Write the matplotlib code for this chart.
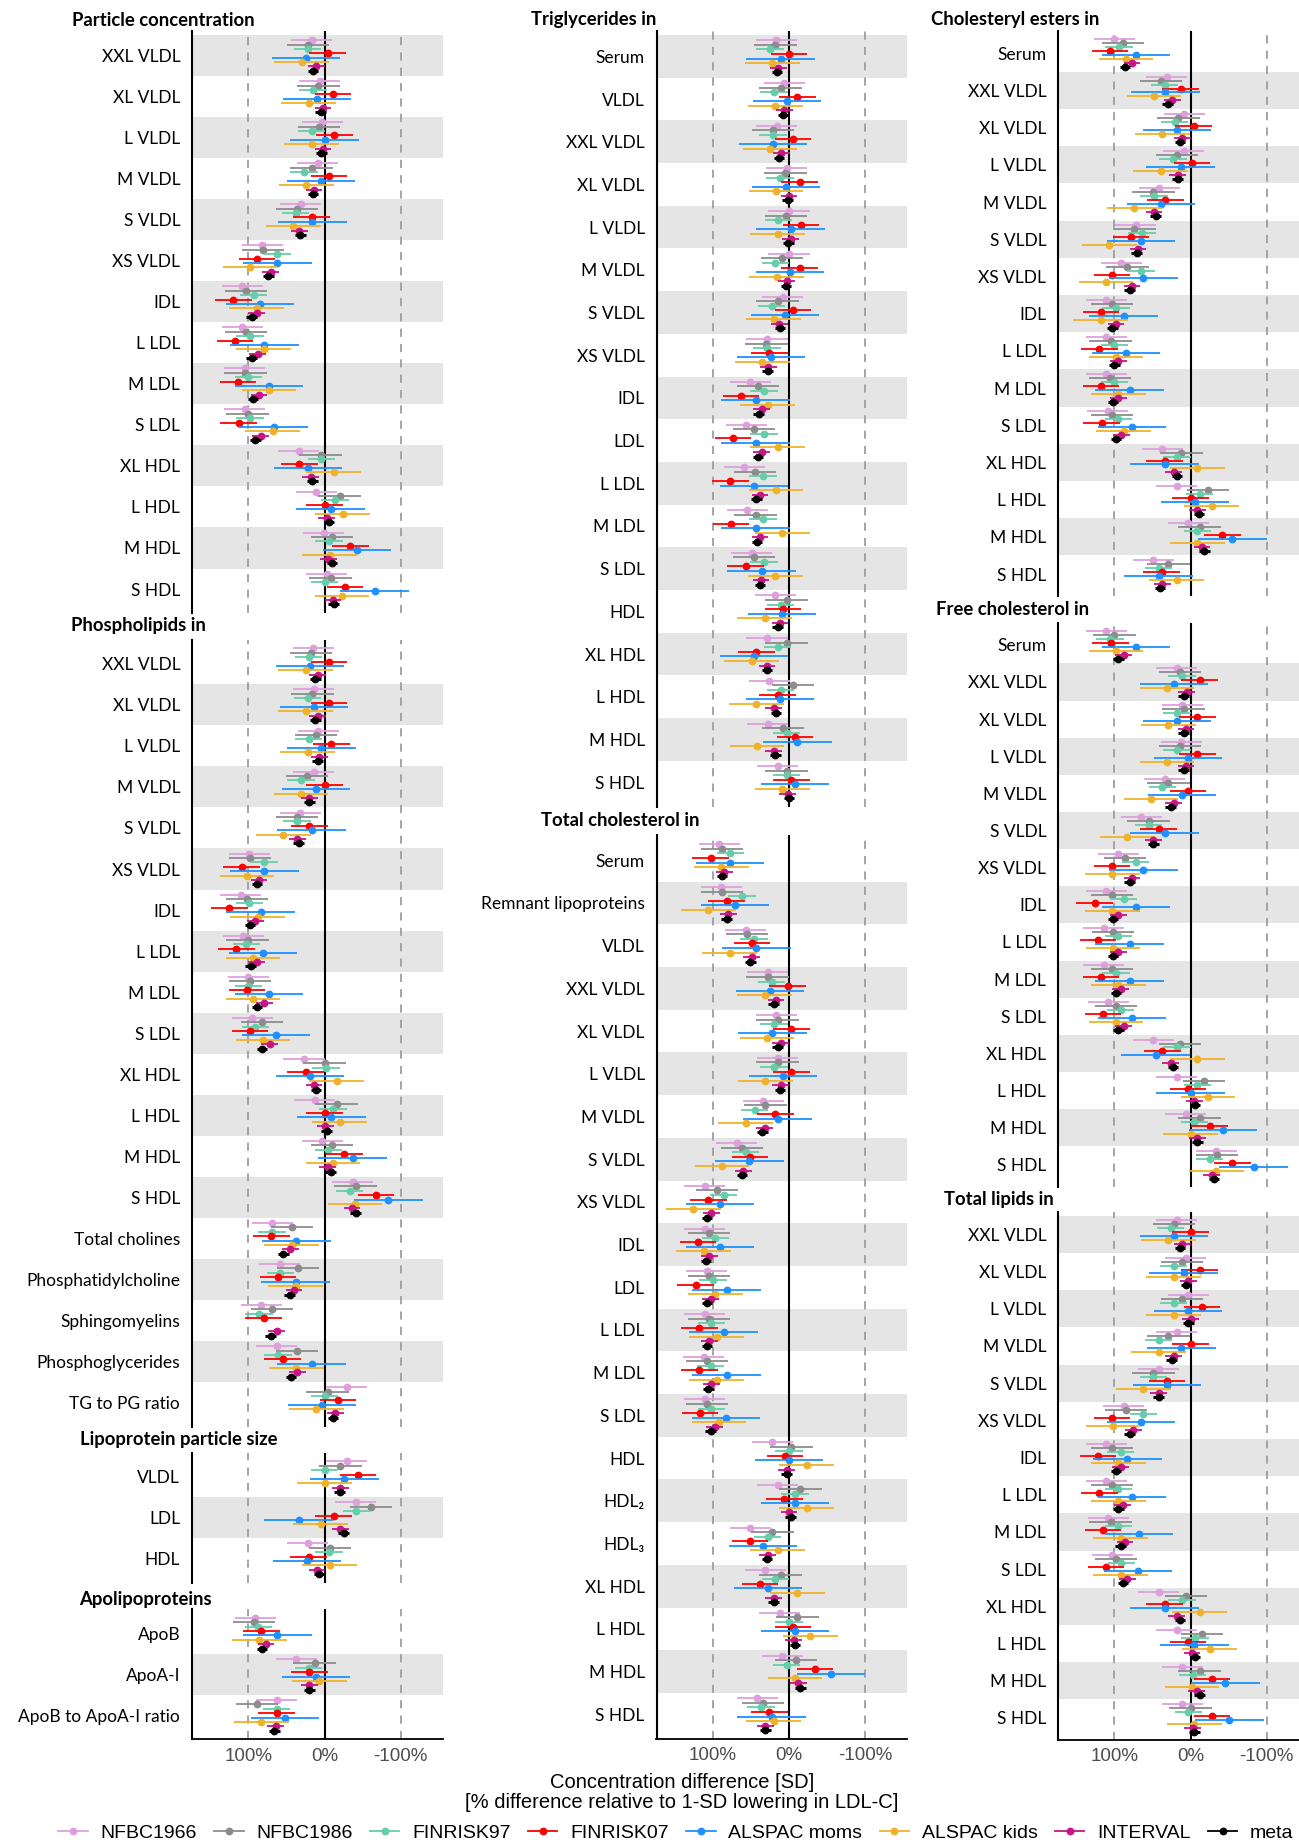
import numpy as np
import matplotlib
matplotlib.use("Agg")
import matplotlib.pyplot as plt
from matplotlib.lines import Line2D

cohorts = ["NFBC1966", "NFBC1986", "FINRISK97", "FINRISK07",
           "ALSPAC moms", "ALSPAC kids", "INTERVAL", "meta"]
cohort_colors = ["#DDA0DD", "#8C8C8C", "#66CDAA", "#FF0000",
                 "#1E90FF", "#F0B22A", "#C71585", "#000000"]
# half width of the 95% CI for each cohort (% difference)
ci_half = [27, 28, 18, 24, 45, 36, 11, 7]

lp_rows = ["XXL VLDL", "XL VLDL", "L VLDL", "M VLDL", "S VLDL", "XS VLDL", "IDL",
           "L LDL", "M LDL", "S LDL", "XL HDL", "L HDL", "M HDL", "S HDL"]

# % difference relative to 1-SD lowering in LDL-C, columns follow `cohorts`
pc_vals = [
    [17, 22, 22, -4, 24, 30, 11, 15],
    [6, 8, 15, -11, 10, 21, 2, 5],
    [3, 7, 17, -13, 0, 17, 2, 4],
    [9, 17, 27, -6, 5, 24, 14, 15],
    [31, 36, 38, 17, 16, 41, 33, 32],
    [82, 81, 62, 89, 62, 98, 71, 74],
    [108, 103, 93, 120, 85, 89, 89, 96],
    [108, 103, 98, 118, 79, 80, 88, 96],
    [105, 104, 100, 114, 73, 73, 86, 94],
    [105, 101, 98, 113, 67, 68, 84, 91],
    [34, 5, 4, 33, 22, -12, 18, 16],
    [11, -20, -14, 0, -8, -24, -3, -6],
    [1, -10, -6, -34, -43, -7, -5, -10],
    [-3, -8, 0, -27, -66, -23, -11, -12],
]

pl_rows = lp_rows + ["Total cholines", "Phosphatidylcholine", "Sphingomyelins",
                     "Phosphoglycerides", "TG to PG ratio"]
pl_vals = [
    [15, 18, 21, -6, 19, 25, 9, 12],
    [14, 16, 22, -6, 14, 25, 9, 12],
    [8, 11, 21, -9, 4, 22, 7, 9],
    [14, 23, 31, 0, 11, 31, 20, 20],
    [32, 36, 36, 20, 17, 54, 36, 34],
    [99, 98, 79, 109, 79, 102, 86, 89],
    [110, 102, 99, 125, 84, 88, 91, 98],
    [107, 101, 103, 116, 81, 94, 89, 97],
    [100, 98, 100, 102, 73, 94, 79, 89],
    [95, 82, 91, 98, 64, 81, 72, 82],
    [27, 0, -2, 25, 19, -16, 14, 11],
    [13, -16, -11, 0, -9, -20, -1, -3],
    [3, -10, -5, -26, -37, -11, -4, -8],
    [-37, -41, -33, -68, -84, -40, -36, -41],
    [69, 43, 69, 70, 37, 43, 45, 54],
    [59, 35, 58, 61, 38, 38, 40, 46],
    [83, 69, 86, 80, np.nan, np.nan, 63, 71],
    [63, 36, 61, 55, 17, 37, 36, 44],
    [-29, -4, 0, -18, 3, 11, -14, -11],
]

size_rows = ["VLDL", "LDL", "HDL"]
size_vals = [
    [-29, -21, 0, -44, -26, 0, -21, -20],
    [-41, -61, -42, -12, 34, 5, -21, -25],
    [22, -7, -6, 21, 23, -7, 10, 7],
]

apo_rows = ["ApoB", "ApoA-I", "ApoB to ApoA-I ratio"]
apo_vals = [
    [91, 93, 87, 83, 62, 86, 77, 82],
    [37, 13, 21, 20, 11, 7, 20, 20],
    [63, 89, 63, 63, 52, 83, 64, 66],
]

tg_rows = ["Serum", "VLDL", "XXL VLDL", "XL VLDL", "L VLDL", "M VLDL", "S VLDL",
           "XS VLDL", "IDL", "LDL", "L LDL", "M LDL", "S LDL", "HDL",
           "XL HDL", "L HDL", "M HDL", "S HDL"]
tg_vals = [
    [17, 18, 25, 0, 11, 22, 14, 16],
    [6, 11, 20, -11, 3, 18, 6, 8],
    [16, 21, 21, -5, 21, 25, 10, 13],
    [3, 5, 12, -14, 4, 17, 0, 2],
    [0, 4, 14, -16, -2, 15, -2, 1],
    [0, 9, 18, -14, -1, 16, 3, 4],
    [8, 15, 23, -5, 5, 20, 13, 12],
    [29, 30, 29, 26, 24, 35, 27, 28],
    [51, 41, 33, 63, 44, 28, 36, 40],
    [56, 46, 33, 74, 44, 15, 36, 41],
    [59, 45, 34, 77, 46, 17, 38, 43],
    [55, 44, 34, 76, 44, 9, 38, 42],
    [49, 46, 33, 57, 36, 18, 37, 38],
    [18, 3, 11, 8, 9, 32, 12, 15],
    [29, 3, 15, 43, 46, 49, 29, 29],
    [26, -5, 11, 15, 12, 43, 20, 17],
    [28, 8, 3, -8, -11, 42, 20, 18],
    [15, 3, 3, -3, -8, 9, 2, 0],
]

tc_rows = ["Serum", "Remnant lipoproteins", "VLDL", "XXL VLDL", "XL VLDL", "L VLDL",
           "M VLDL", "S VLDL", "XS VLDL", "IDL", "LDL", "L LDL", "M LDL", "S LDL",
           "HDL", "HDL\u2082", "HDL\u2083", "XL HDL", "L HDL", "M HDL", "S HDL"]
tc_vals = [
    [92, 88, 77, 103, 78, 89, 85, 88],
    [89, 88, 62, 82, 71, 106, 80, 82],
    [57, 55, 46, 49, 43, 78, 49, 51],
    [28, 28, 23, 2, 25, 32, 17, 20],
    [17, 15, 20, -3, 22, 29, 11, 15],
    [15, 15, 20, -3, 8, 31, 11, 12],
    [34, 31, 45, 18, 15, 57, 32, 35],
    [69, 62, 57, 51, 52, 88, 60, 62],
    [111, 95, 86, 106, 91, 126, 102, 108],
    [111, 105, 97, 120, 91, 112, 105, 109],
    [108, 105, 100, 123, 82, 97, 103, 108],
    [111, 105, 102, 118, 86, 95, 105, 108],
    [112, 108, 103, 118, 82, 95, 102, 106],
    [111, 108, 102, 117, 83, 92, 98, 103],
    [22, -3, 0, 5, 0, -23, 3, 3],
    [15, -15, -8, 6, -8, -23, 0, -2],
    [51, 22, 28, 51, 34, 15, 28, 29],
    [31, 11, 18, 38, 28, -11, 20, 20],
    [12, -11, 0, -5, -8, -28, -6, -8],
    [9, -9, 3, -34, -55, -8, -12, -15],
    [42, 34, 37, 26, 23, 20, 31, 31],
]

ce_rows = ["Serum"] + lp_rows
ce_vals = [
    [100, 89, 94, 106, 72, 85, 77, 86],
    [31, 39, 34, 13, 33, 48, 24, 30],
    [8, 16, 21, -4, 18, 37, 11, 14],
    [9, 18, 23, -2, 13, 39, 17, 17],
    [41, 49, 48, 33, 39, 74, 48, 46],
    [72, 74, 64, 78, 65, 107, 69, 71],
    [91, 83, 65, 103, 62, 111, 77, 80],
    [111, 103, 98, 118, 88, 118, 98, 103],
    [111, 105, 100, 120, 85, 98, 95, 100],
    [111, 106, 100, 118, 80, 95, 95, 102],
    [109, 103, 95, 117, 77, 88, 91, 98],
    [37, 12, 18, 34, 34, -9, 22, 18],
    [18, -23, -12, 0, -6, -28, -9, -11],
    [3, -12, -9, -42, -55, -9, -15, -18],
    [49, 29, 42, 38, 42, 18, 37, 40],
]

fc_rows = ce_rows
fc_vals = [
    [111, 100, 106, 105, 72, 98, 88, 95],
    [18, 14, 11, -12, 22, 31, 5, 9],
    [11, 9, 18, -9, 18, 29, 6, 9],
    [12, 14, 18, -9, 3, 31, 6, 9],
    [34, 29, 37, 3, 11, 52, 22, 26],
    [65, 55, 55, 42, 34, 83, 49, 49],
    [95, 86, 72, 103, 62, 103, 77, 80],
    [111, 103, 88, 126, 72, 103, 95, 102],
    [114, 102, 95, 122, 80, 102, 95, 102],
    [114, 103, 98, 118, 80, 95, 92, 98],
    [108, 98, 92, 115, 77, 98, 88, 95],
    [49, 14, 18, 37, 46, -9, 26, 23],
    [18, -18, -9, 3, 0, -23, -5, -6],
    [6, -12, -5, -25, -43, 0, -9, -9],
    [-34, -35, -25, -55, -83, -34, -28, -31],
]

tl_rows = lp_rows
tl_vals = [
    [18, 22, 26, 0, 22, 29, 11, 14],
    [6, 11, 22, -12, 9, 22, 3, 6],
    [3, 11, 22, -15, 3, 22, 0, 3],
    [18, 29, 42, 0, 12, 42, 22, 25],
    [42, 49, 49, 31, 31, 62, 42, 42],
    [88, 85, 62, 103, 65, 102, 75, 80],
    [111, 103, 92, 122, 83, 95, 92, 98],
    [111, 103, 95, 120, 77, 95, 89, 95],
    [108, 105, 95, 115, 68, 92, 86, 92],
    [103, 98, 91, 111, 69, 92, 83, 89],
    [42, 6, 11, 34, 34, -12, 18, 14],
    [18, -15, -6, 3, -5, -25, -2, -6],
    [11, -12, -3, -28, -46, -2, -8, -12],
    [11, 0, 3, -28, -51, -5, -3, -5],
]

W, H = 1299, 1845
XLIM = (174.3, -155.3)
AX_W = 250.6
LABEL_FONT = ["Lato", "DejaVu Sans"]
AXIS_FONT = ["Liberation Sans", "DejaVu Sans"]

fig = plt.figure(figsize=(W / 100, H / 100), dpi=100, facecolor="white")


def forest_panel(left, first_y, row_h, title, title_x, title_y, rows, vals, bottom_axis=False):
    n = len(rows)
    pad = 3.5
    top = first_y - row_h / 2 - pad
    bottom = first_y + (n - 1) * row_h + row_h / 2 + pad
    ax = fig.add_axes([left / W, 1 - bottom / H, AX_W / W, (bottom - top) / H])
    ax.set_xlim(*XLIM)
    pr = pad / row_h
    ax.set_ylim(n - 0.5 + pr, -0.5 - pr)

    # alternate shading, counted from the bottom row
    for i in range(n):
        if (n - 1 - i) % 2 == 1:
            ax.axhspan(i - 0.5, i + 0.5, color="#E5E5E5", lw=0, zorder=0)
    for ref in (100, -100):
        ax.axvline(ref, color="#9E9E9E", lw=1.3, ls=(0, (4.5, 4)), zorder=1)
    ax.axvline(0, color="black", lw=1.5, zorder=1)

    vals = np.array(vals, dtype=float)
    pos = np.arange(n)
    for k, (name, col) in enumerate(zip(cohorts, cohort_colors)):
        y = pos + (k - 3.5) * 0.107
        is_meta = name == "meta"
        ax.errorbar(vals[:, k], y, xerr=ci_half[k], fmt="o", color=col,
                    ms=4.6, elinewidth=2.2 if is_meta else 1.3, capsize=0,
                    zorder=3 + k)

    ax.set_yticks(pos)
    ax.set_yticklabels(rows, fontsize=12.5, family=LABEL_FONT)
    ax.tick_params(axis="y", length=0, pad=8.5)
    for s in ("top", "right"):
        ax.spines[s].set_visible(False)
    ax.spines["left"].set_linewidth(1.5)
    if bottom_axis:
        ax.spines["bottom"].set_linewidth(1.3)
        ax.set_xticks([100, 0, -100])
        ax.set_xticklabels(["100%", "0%", "-100%"], fontsize=13.5,
                           color="#4D4D4D", family=AXIS_FONT)
        ax.tick_params(axis="x", length=0, pad=6)
    else:
        ax.spines["bottom"].set_visible(False)
        ax.set_xticks([])
    fig.text(title_x / W, 1 - title_y / H, title, fontsize=13.3, weight="bold",
             family=LABEL_FONT, ha="left", va="center")
    return ax


# left column
forest_panel(192, 55.5, 41.04, "Particle concentration", 72, 20, lp_rows, pc_vals)
forest_panel(192, 663.8, 41.04, "Phospholipids in", 70.6, 625, pl_rows, pl_vals)
forest_panel(192, 1476.7, 41.04, "Lipoprotein particle size", 80, 1439, size_rows, size_vals)
forest_panel(192, 1633.3, 41.04, "Apolipoproteins", 79, 1600, apo_rows, apo_vals, bottom_axis=True)

# middle column
forest_panel(656.5, 56.3, 42.7, "Triglycerides in", 530.6, 20, tg_rows, tg_vals)
forest_panel(656.5, 860.3, 42.7, "Total cholesterol in", 541, 820, tc_rows, tc_vals, bottom_axis=True)

# right column
forest_panel(1058, 53.3, 37.2, "Cholesteryl esters in", 931, 20, ce_rows, ce_vals)
forest_panel(1058, 644.8, 37.15, "Free cholesterol in", 935.5, 609.5, fc_rows, fc_vals)
forest_panel(1058, 1234.3, 37.2, "Total lipids in", 943.6, 1200, tl_rows, tl_vals, bottom_axis=True)

fig.text(682 / W, 1 - 1782 / H, "Concentration difference [SD]", fontsize=14.5,
         family=AXIS_FONT, ha="center", va="center")
fig.text(682 / W, 1 - 1802 / H, "[% difference relative to 1-SD lowering in LDL-C]",
         fontsize=14.5, family=AXIS_FONT, ha="center", va="center")

handles = [Line2D([0], [0], color=c, marker="o", ms=4.6, lw=1.3) for c in cohort_colors]
fig.legend(handles, cohorts, loc="center", bbox_to_anchor=(676 / W, 1 - 1833 / H),
           ncol=8, frameon=False, handlelength=1.5, handletextpad=0.65,
           columnspacing=0.91, prop={"family": AXIS_FONT, "size": 14})

fig.savefig("out.png", dpi=100)
